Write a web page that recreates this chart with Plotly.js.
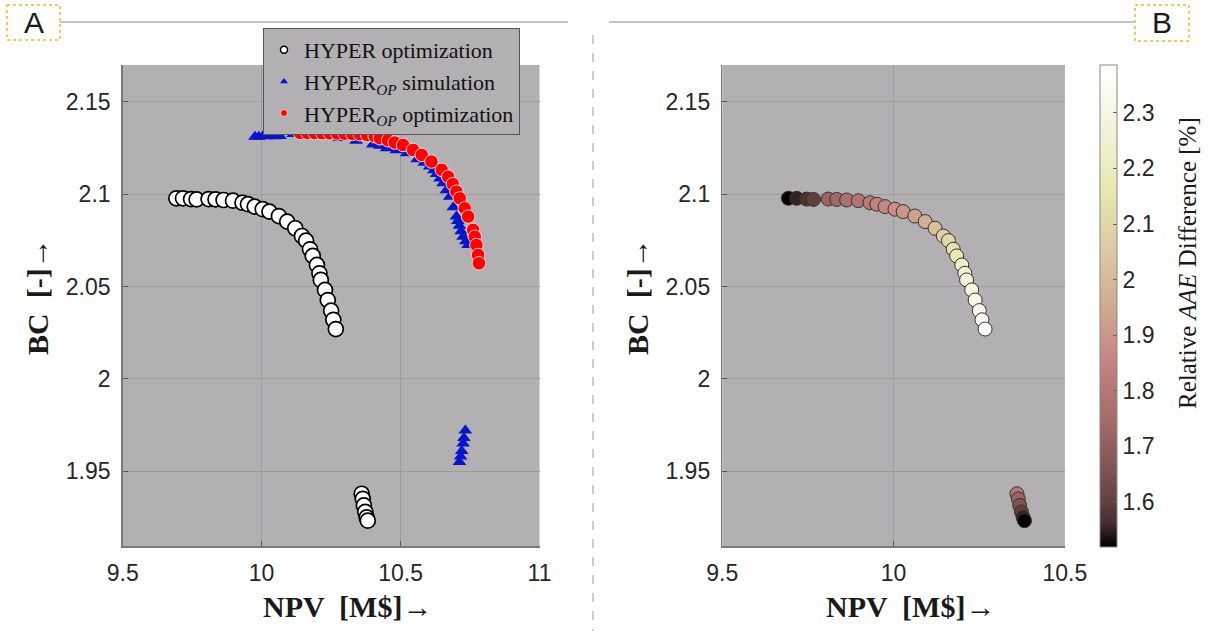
<!DOCTYPE html>
<html>
<head>
<meta charset="utf-8">
<script src="https://cdn.plot.ly/plotly-3.0.1.min.js"></script>
<style>html,body{margin:0;padding:0;background:#fff;}#chart{width:1212px;height:631px;}</style>
</head>
<body>
<div id="chart"></div>
<script>
// ---------------- data ----------------
// HYPER optimization (NPV [M$], BC [-], relative AAE difference [%])
const hyperNPV = [9.693, 9.717, 9.746, 9.766, 9.809, 9.834, 9.863, 9.897, 9.931, 9.951, 9.975, 10.004, 10.028, 10.062, 10.092, 10.121, 10.145, 10.160, 10.174, 10.184, 10.199, 10.208, 10.213, 10.228, 10.238, 10.250, 10.258, 10.267,
                  10.360, 10.364, 10.368, 10.373, 10.378, 10.382];
const hyperBC  = [2.0978, 2.0978, 2.0974, 2.0972, 2.0974, 2.0972, 2.0969, 2.0965, 2.0954, 2.0946, 2.0933, 2.0919, 2.0906, 2.0882, 2.0852, 2.0816, 2.0774, 2.0749, 2.0702, 2.0666, 2.0617, 2.0572, 2.0536, 2.0482, 2.0427, 2.0370, 2.0320, 2.0270,
                  1.9378, 1.9350, 1.9315, 1.9280, 1.9250, 1.9232];
const hyperAAE = [1.52, 1.55, 1.57, 1.60, 1.72, 1.74, 1.77, 1.79, 1.82, 1.84, 1.86, 1.88, 1.90, 1.93, 1.97, 2.02, 2.07, 2.10, 2.14, 2.18, 2.22, 2.25, 2.27, 2.30, 2.32, 2.34, 2.36, 2.38,
                  1.80, 1.72, 1.66, 1.60, 1.55, 1.52];
// HYPER_OP simulation
const simNPV = [9.976, 9.990, 10.006, 10.020, 10.036, 10.050, 10.066, 10.114, 10.16, 10.22, 10.28, 10.34, 10.40, 10.425, 10.450, 10.485, 10.522, 10.56, 10.585, 10.605, 10.620, 10.630, 10.642, 10.653, 10.665, 10.677, 10.690, 10.701, 10.706, 10.712, 10.718, 10.725, 10.735, 10.743,
                10.733, 10.728, 10.725, 10.720, 10.716, 10.712];
const simBC  = [2.1312, 2.1312, 2.1316, 2.1314, 2.1316, 2.1314, 2.1316, 2.1326, 2.1324, 2.1316, 2.1305, 2.1290, 2.1270, 2.1262, 2.1249, 2.1238, 2.1222, 2.1190, 2.1170, 2.1150, 2.1130, 2.1110, 2.1085, 2.1060, 2.1022, 2.0987, 2.0930, 2.0879, 2.0855, 2.0830, 2.0800, 2.0770, 2.0745, 2.0725,
                1.9720, 1.9680, 1.9650, 1.9610, 1.9580, 1.9550];
// HYPER_OP optimization
const optNPV = [10.138, 10.165, 10.191, 10.218, 10.245, 10.272, 10.299, 10.326, 10.353, 10.380, 10.407, 10.426, 10.455, 10.479, 10.509, 10.545, 10.576, 10.611, 10.648, 10.671, 10.688, 10.701, 10.713, 10.731, 10.743, 10.761, 10.767, 10.773, 10.779, 10.782];
const optBC  = [2.1332, 2.1332, 2.1332, 2.1331, 2.1330, 2.1329, 2.1328, 2.1327, 2.1325, 2.1321, 2.1314, 2.1303, 2.1292, 2.1280, 2.1267, 2.1240, 2.1213, 2.1177, 2.1132, 2.1095, 2.1055, 2.1014, 2.0978, 2.0924, 2.0879, 2.0807, 2.0770, 2.0725, 2.0671, 2.0626];

const seriesNames = ["HYPER optimization", "HYPER<sub><i>OP</i></sub> simulation", "HYPER<sub><i>OP</i></sub> optimization"];
const xTicksA = [9.5, 10, 10.5, 11];
const xTicksB = [9.5, 10, 10.5];
const yTicks  = [1.95, 2, 2.05, 2.1, 2.15];
const cbTicks = [1.6, 1.7, 1.8, 1.9, 2, 2.1, 2.2, 2.3];
const cbRange = [1.519, 2.386];
const panelLabels = ["A", "B"];

// ---------------- style helpers ----------------
const W = 1212, H = 631;
const px = v => v / W;
const py = v => 1 - v / H;

// MATLAB "pink" colormap
function pinkScale(n) {
  const out = [];
  for (let i = 0; i <= n; i++) {
    const t = i / n;
    const hr = Math.min(1, t / 0.375);
    const hg = Math.max(0, Math.min(1, (t - 0.375) / 0.375));
    const hb = Math.max(0, Math.min(1, (t - 0.75) / 0.25));
    const c = h => Math.round(255 * Math.sqrt((2 * t + h) / 3));
    out.push([t, `rgb(${c(hr)},${c(hg)},${c(hb)})`]);
  }
  return out;
}

const bg = '#b3b0b4';
const tickFont = {family: 'Liberation Sans, Arial, sans-serif', size: 23, color: '#262626'};
const serif = 'Liberation Serif, Times New Roman, serif';

const commonAxis = {
  showgrid: true, gridcolor: '#9d9aa0', gridwidth: 1,
  zeroline: false, showline: true, linecolor: '#7a7a7a', linewidth: 1.5,
  ticks: 'inside', ticklen: 5, tickcolor: '#555', tickfont: tickFont
};

const plotTop = 65, plotBot = 546;
const axA = [122.7, 539.5], axB = [722.3, 1064.9];

function ann(text, x, y, size, family, extra) {
  return Object.assign({text: text, xref: 'paper', yref: 'paper', x: px(x), y: py(y),
    xanchor: 'center', yanchor: 'middle', showarrow: false,
    font: {family: family, size: size, color: '#1a1a1a'}}, extra || {});
}

const layout = {
  width: W, height: H,
  margin: {l: 0, r: 0, t: 0, b: 0},
  paper_bgcolor: '#ffffff', plot_bgcolor: bg,
  showlegend: true,
  xaxis: Object.assign({}, commonAxis, {domain: [px(axA[0]), px(axA[1])], range: [9.5, 11], tickvals: xTicksA, anchor: 'y', ticklabelstandoff: 6}),
  yaxis: Object.assign({}, commonAxis, {domain: [py(plotBot), py(plotTop)], range: [1.9095, 2.17], tickvals: yTicks, anchor: 'x', ticklabelstandoff: 6}),
  xaxis2: Object.assign({}, commonAxis, {domain: [px(axB[0]), px(axB[1])], range: [9.5, 10.5], tickvals: xTicksB, anchor: 'y2', ticklabelstandoff: 6}),
  yaxis2: Object.assign({}, commonAxis, {domain: [py(plotBot), py(plotTop)], range: [1.9095, 2.17], tickvals: yTicks, anchor: 'x2', ticklabelstandoff: 6}),
  legend: {
    x: px(263), y: py(28), xanchor: 'left', yanchor: 'top',
    bgcolor: bg, bordercolor: '#555', borderwidth: 1,
    font: {family: serif, size: 22, color: '#111'},
    itemwidth: 30, tracegroupgap: 0
  },
  shapes: [
    {type: 'rect', xref: 'paper', yref: 'paper', x0: px(7), x1: px(60), y0: py(5), y1: py(40), line: {color: '#f2b632', width: 1.5, dash: 'dot'}},
    {type: 'line', xref: 'paper', yref: 'paper', x0: px(60), x1: px(568), y0: py(22), y1: py(22), line: {color: '#c4c4c4', width: 2}},
    {type: 'rect', xref: 'paper', yref: 'paper', x0: px(1135), x1: px(1189), y0: py(5), y1: py(41), line: {color: '#f2b632', width: 1.5, dash: 'dot'}},
    {type: 'line', xref: 'paper', yref: 'paper', x0: px(609), x1: px(1135), y0: py(22), y1: py(22), line: {color: '#c4c4c4', width: 2}},
    {type: 'line', xref: 'paper', yref: 'paper', x0: px(593), x1: px(593), y0: py(35), y1: py(631), line: {color: '#bdbdbd', width: 1.5, dash: 'dash'}}
  ],
  annotations: [
    ann(panelLabels[0], 33.5, 22.5, 30, 'Liberation Sans, Arial'),
    ann(panelLabels[1], 1162, 23, 30, 'Liberation Sans, Arial'),
    ann('<b>NPV  [M$]</b>→', 347, 606, 30, serif),
    ann('<b>NPV  [M$]</b>→', 910, 606, 30, serif),
    ann('<b>BC  [-]</b>→', 38, 297, 30, serif, {textangle: -90}),
    ann('<b>BC  [-]</b>→', 638, 297, 30, serif, {textangle: -90}),
    ann('Relative <i>AAE</i> Difference [%]', 1188, 263, 25, serif, {textangle: -90})
  ]
};

const traces = [
  {type: 'scatter', mode: 'markers', x: hyperNPV, y: hyperBC, xaxis: 'x', yaxis: 'y', showlegend: false, hoverinfo: 'skip',
   marker: {symbol: 'circle', size: 15, color: '#ffffff', line: {color: '#000000', width: 1.7}}},
  {type: 'scatter', mode: 'markers', x: simNPV, y: simBC, xaxis: 'x', yaxis: 'y', showlegend: false, hoverinfo: 'skip',
   marker: {symbol: 'triangle-up', size: 12, color: '#0a14c8', line: {width: 0}}},
  {type: 'scatter', mode: 'markers', x: optNPV, y: optBC, xaxis: 'x', yaxis: 'y', showlegend: false, hoverinfo: 'skip',
   marker: {symbol: 'circle', size: 13.5, color: '#ff0000', line: {color: '#ffd0d0', width: 1}}},
  {type: 'scatter', mode: 'markers', x: hyperNPV, y: hyperBC, xaxis: 'x2', yaxis: 'y2', showlegend: false, hoverinfo: 'skip',
   marker: {symbol: 'circle', size: 14, color: hyperAAE, colorscale: pinkScale(20), cmin: cbRange[0], cmax: cbRange[1],
     line: {color: '#3a3030', width: 1},
     colorbar: {x: px(1100), xanchor: 'left', xpad: 0, ypad: 0, thickness: 17, thicknessmode: 'pixels',
       len: 482, lenmode: 'pixels', y: py(306), yanchor: 'middle',
       tickvals: cbTicks, ticks: 'inside', ticklen: 4, tickcolor: '#666', outlinecolor: '#888', outlinewidth: 1,
       tickfont: tickFont, ticklabelposition: 'outside'}}},
  // legend entries
  {type: 'scatter', mode: 'markers', x: [null], y: [null], xaxis: 'x', yaxis: 'y', name: seriesNames[0],
   marker: {symbol: 'circle', size: 7, color: '#ffffff', line: {color: '#000', width: 1.5}}},
  {type: 'scatter', mode: 'markers', x: [null], y: [null], xaxis: 'x', yaxis: 'y', name: seriesNames[1],
   marker: {symbol: 'triangle-up', size: 7, color: '#0a14c8'}},
  {type: 'scatter', mode: 'markers', x: [null], y: [null], xaxis: 'x', yaxis: 'y', name: seriesNames[2],
   marker: {symbol: 'circle', size: 7, color: '#ff0000', line: {color: '#ffd0d0', width: 1}}}
];

Plotly.newPlot('chart', traces, layout, {displayModeBar: false, staticPlot: true});
</script>
</body>
</html>
